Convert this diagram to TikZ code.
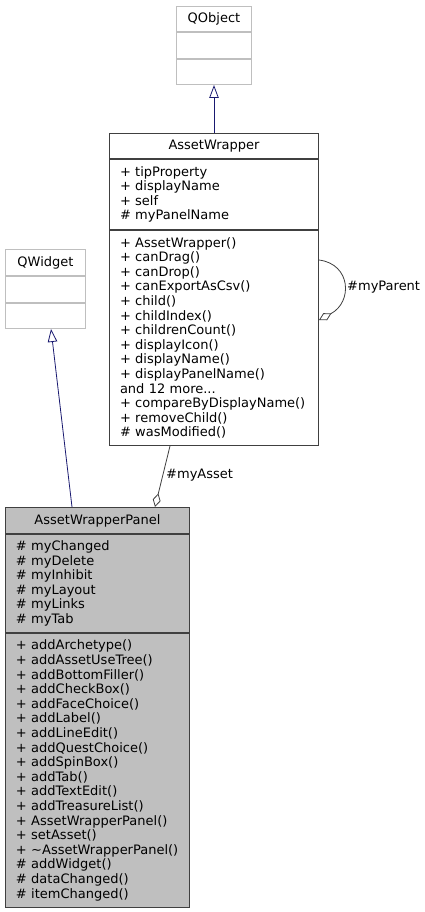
\documentclass[tikz,border=0pt]{standalone}
\usepackage{fontspec}
\setmainfont{DejaVu Sans}
\usetikzlibrary{arrows.meta,calc}
\definecolor{bd}{HTML}{404040}
\definecolor{lg}{HTML}{BFBFBF}
\definecolor{navyedge}{HTML}{191970}
\definecolor{panelfill}{HTML}{BFBFBF}
\begin{document}
\begin{tikzpicture}[x=1pt,y=-1pt,
 box/.style={draw=bd, line width=1pt, anchor=north west, inner sep=0pt, font=\fontsize{13}{14.6}\selectfont, text=black},
 ext/.style={box, draw=lg},
 ttl/.style={align=center},
 cmp/.style={align=left, inner xsep=10.5pt, inner ysep=0pt},
 inh/.style={navyedge, line width=0.8pt, -{Triangle[open, length=13pt, width=9.5pt, fill=white]}},
 agg/.style={bd, line width=0.8pt, -{Diamond[open, length=14pt, width=8pt, fill=white]}},
 lbl/.style={font=\fontsize{13}{14.6}\selectfont, anchor=west, inner sep=0pt}]
\useasboundingbox (0,0) rectangle (425,912);
\fill[white] (0,0) rectangle (425,912);
% QObject
\node[ext, ttl, minimum width=75, minimum height=25.5] (qo) at (176,6) {QObject};
\node[ext, minimum width=75, minimum height=25.5] (qoa) at (qo.south west) {};
\node[ext, minimum width=75, minimum height=25] (qom) at (qoa.south west) {};
% AssetWrapper
\node[box, ttl, minimum width=209, minimum height=25] (aw) at (109,133) {AssetWrapper};
\node[box, cmp, text width=188, minimum width=209, minimum height=70] (awa) at (aw.south west)
 {+ tipProperty\\+ displayName\\+ self\\\# myPanelName};
\node[box, cmp, text width=188, minimum width=209, minimum height=215] (awm) at (awa.south west)
 {+ AssetWrapper()\\+ canDrag()\\+ canDrop()\\+ canExportAsCsv()\\+ child()\\+ childIndex()\\+ childrenCount()\\+ displayIcon()\\+ displayName()\\+ displayPanelName()\\and 12 more...\\+ compareByDisplayName()\\+ removeChild()\\\# wasModified()};
% QWidget
\node[ext, ttl, minimum width=80, minimum height=26] (qw) at (5,249) {QWidget};
\node[ext, minimum width=80, minimum height=26] (qwa) at (qw.south west) {};
\node[ext, minimum width=80, minimum height=25] (qwm) at (qwa.south west) {};
% AssetWrapperPanel
\node[box, fill=panelfill, ttl, minimum width=184, minimum height=26] (awp) at (5,507) {AssetWrapperPanel};
\node[box, fill=panelfill, cmp, text width=163, minimum width=184, minimum height=98] (awpa) at (awp.south west)
 {\# myChanged\\\# myDelete\\\# myInhibit\\\# myLayout\\\# myLinks\\\# myTab};
\node[box, fill=panelfill, cmp, text width=163, minimum width=184, minimum height=274] (awpm) at (awpa.south west)
 {+ addArchetype()\\+ addAssetUseTree()\\+ addBottomFiller()\\+ addCheckBox()\\+ addFaceChoice()\\+ addLabel()\\+ addLineEdit()\\+ addQuestChoice()\\+ addSpinBox()\\+ addTab()\\+ addTextEdit()\\+ addTreasureList()\\+ AssetWrapperPanel()\\+ setAsset()\\+ \textasciitilde AssetWrapperPanel()\\\# addWidget()\\\# dataChanged()\\\# itemChanged()};
% inheritance
\draw[inh] (aw.north) -- (qom.south);
\coordinate (qwtip) at ($(qwm.south west)+(46,0)$);
\coordinate (awpin) at ($(awp.north west)+(67,0)$);
\draw[inh] (awpin) -- (qwtip);
% aggregation myAsset
\coordinate (awout) at ($(awm.south west)+(61,0)$);
\coordinate (awpagg) at ($(awp.north west)+(150,0)$);
\draw[agg] (awout) -- (awpagg);
\node[lbl] (lasset) at (166,475) {\#myAsset};
% self loop myParent
\coordinate (lp1) at ($(awm.north east)+(0,30)$);
\coordinate (lp2) at ($(awm.north east)+(0,90)$);
\coordinate (lc1) at ($(lp1)+(32,4)$);
\coordinate (lc2) at ($(lp2)+(34,-18)$);
\draw[agg] (lp1) .. controls (lc1) and (lc2) .. (lp2);
\node[lbl] (lparent) at (347,287) {\#myParent};
\end{tikzpicture}
\end{document}
